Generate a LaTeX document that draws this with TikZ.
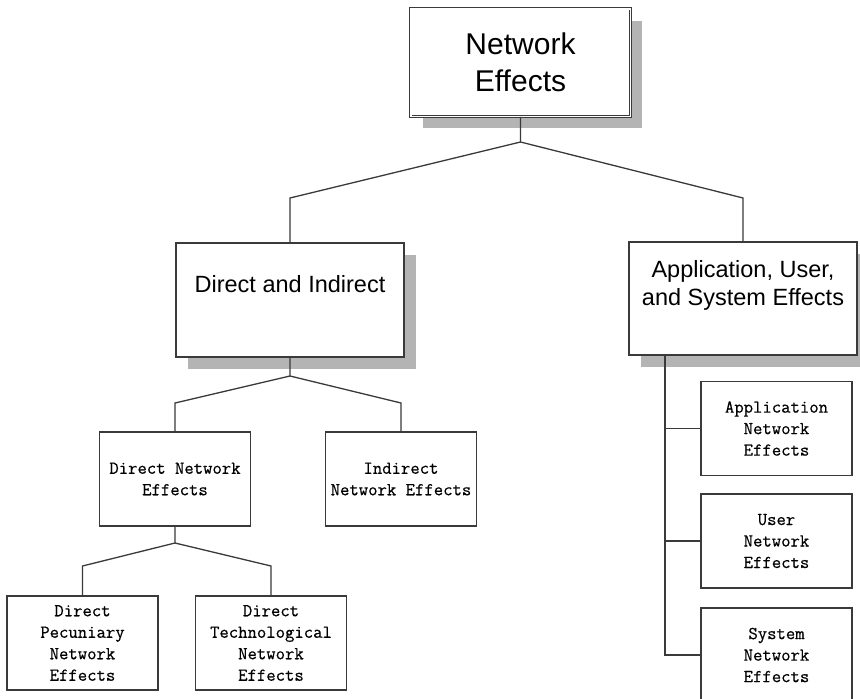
\documentclass[tikz,border=0pt]{standalone}
\usepackage{fontspec}
\setmainfont{Liberation Sans}
\newfontfamily\boxmono[FakeBold=0.5]{Latin Modern Mono}
\usetikzlibrary{shadows}
\definecolor{edgegray}{HTML}{3A3A3A}
\definecolor{shadegray}{HTML}{B4B4B4}
\newcommand{\headfont}{\fontsize{23.5}{28}\selectfont}
\begin{document}
\begin{tikzpicture}[x=1pt,y=-1pt,
  box/.style={draw=edgegray, line width=1.3pt, fill=white, inner sep=0pt},
  shadowed/.style={drop shadow={shadow xshift=12pt,shadow yshift=-12pt,fill=shadegray,opacity=1}},
  smallbox/.style={box, minimum width=151pt, minimum height=94pt, align=center,
    font=\boxmono\fontsize{18.2}{21.5}\selectfont},
  conn/.style={draw=edgegray, line width=1.3pt}]

% canvas
\fill[white] (0,0) rectangle (860,699);
\useasboundingbox (0,0) rectangle (860,699);

% root
\node[box, shadowed, draw=edgegray, line width=0.9pt, double=white, double distance=1.6pt,
  minimum width=219.6pt, minimum height=107.6pt, align=center,
  font=\fontsize{30}{37}\selectfont] (ne) at (520.5,62.5) {Network\\Effects};

% second level
\node[box, shadowed, minimum width=228pt, minimum height=114pt,
  label={[font=\headfont, yshift=15.5pt]center:{Direct and Indirect}}] (di) at (290,300) {};
\node[box, shadowed, minimum width=228pt, minimum height=113pt,
  label={[font=\headfont, align=center, yshift=13.5pt]center:{Application, User,\\and System Effects}}] (au) at (743,298.5) {};

% third level, left
\node[smallbox] (dne) at (175,479) {Direct Network\\Effects};
\node[smallbox] (ine) at (401,479) {Indirect\\Network Effects};
\node[smallbox] (dpe) at (82.5,643) {Direct\\Pecuniary\\Network\\Effects};
\node[smallbox] (dte) at (271,643) {Direct\\Technological\\Network\\Effects};

% third level, right
\node[smallbox] (ane) at (776.5,428.5) {Application\\Network\\Effects};
\node[smallbox] (une) at (776.5,541) {User\\Network\\Effects};
\node[smallbox] (sne) at (776.5,655) {System\\Network\\Effects};

% junction points
\coordinate (j0) at (520.5,142);
\coordinate (j0l) at (290,198);
\coordinate (j0r) at (743,198);
\coordinate (j1) at (290,376);
\coordinate (j1l) at (175,403);
\coordinate (j1r) at (401,403);
\coordinate (j2) at (175,543);
\coordinate (j2l) at (82.5,566);
\coordinate (j2r) at (271,566);
\coordinate (trunk) at (665,655);

% connectors
\draw[conn] (ne.south) -- (j0) -- (j0l) -- (di.north);
\draw[conn] (j0) -- (j0r) -- (au.north);
\draw[conn] (di.south) -- (j1) -- (j1l) -- (dne.north);
\draw[conn] (j1) -- (j1r) -- (ine.north);
\draw[conn] (dne.south) -- (j2) -- (j2l) -- (dpe.north);
\draw[conn] (j2) -- (j2r) -- (dte.north);
\draw[conn] (au.south -| trunk) -- (trunk) -- (sne.west);
\draw[conn] (ane.west -| trunk) -- (ane.west);
\draw[conn] (une.west -| trunk) -- (une.west);
\end{tikzpicture}
\end{document}
